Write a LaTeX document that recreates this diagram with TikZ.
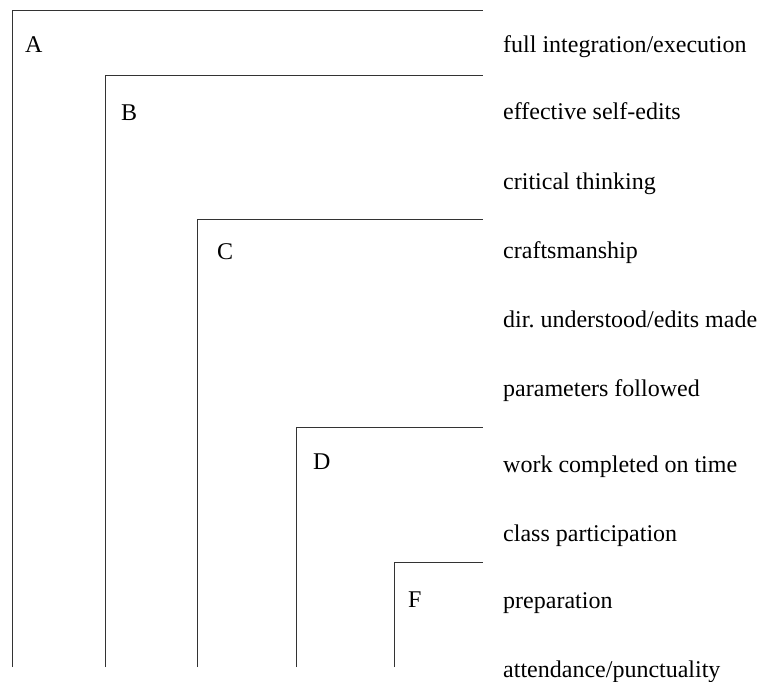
\documentclass[tikz,border=0pt]{standalone}
\usepackage{fontspec}
\setmainfont{Liberation Serif}
\frenchspacing
\begin{document}
\begin{tikzpicture}[x=1pt,y=-1pt,
  lvl/.style={draw=black!80,line width=0.9pt},
  lab/.style={anchor=base west,inner sep=0pt,font=\fontsize{24}{28}\selectfont},
  crit/.style={anchor=base west,inner sep=0pt,font=\fontsize{24}{28}\selectfont}]
\useasboundingbox (0,0) rectangle (761,681);
% brackets
\coordinate (a0) at (12.5,667); \coordinate (a1) at (12.5,10.5); \coordinate (a2) at (483,10.5);
\coordinate (b0) at (105,667); \coordinate (b1) at (105,75.5); \coordinate (b2) at (483,75.5);
\coordinate (c0) at (197,667); \coordinate (c1) at (197,219); \coordinate (c2) at (483,219);
\coordinate (d0) at (296,667); \coordinate (d1) at (296,427.5); \coordinate (d2) at (483,427.5);
\coordinate (f0) at (394,667); \coordinate (f1) at (394,562); \coordinate (f2) at (483,562);
\draw[lvl] (a0) -- (a1) -- (a2);
\draw[lvl] (b0) -- (b1) -- (b2);
\draw[lvl] (c0) -- (c1) -- (c2);
\draw[lvl] (d0) -- (d1) -- (d2);
\draw[lvl] (f0) -- (f1) -- (f2);
% grade labels
\node[lab] (A) at (25,52) {A};
\node[lab] (B) at (121,120) {B};
\node[lab] (C) at (217,259) {C};
\node[lab] (D) at (313,469) {D};
\node[lab] (F) at (408,607) {F};
% criteria
\node[crit] (t1) at (503,52) {full integration/execution};
\node[crit] (t2) at (503,119) {effective self-edits};
\node[crit] (t3) at (503,189) {critical thinking};
\node[crit] (t4) at (503,258) {craftsmanship};
\node[crit] (t5) at (503,327) {dir. understood/edits made};
\node[crit] (t6) at (503,396) {parameters followed};
\node[crit] (t7) at (503,472) {work completed on time};
\node[crit] (t8) at (503,541) {class participation};
\node[crit] (t9) at (503,608) {preparation};
\node[crit] (t10) at (503,677) {attendance/punctuality};
\end{tikzpicture}
\end{document}
